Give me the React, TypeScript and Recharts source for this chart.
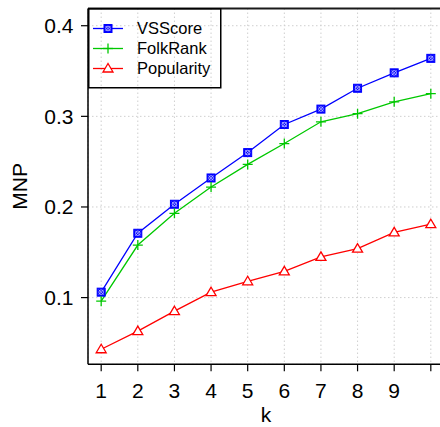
import React from 'react';
import { LineChart, Line, XAxis, YAxis, CartesianGrid, Legend, ReferenceLine } from 'recharts';

const ks = [1, 2, 3, 4, 5, 6, 7, 8, 9, 10];
const vsscore = [0.106, 0.171, 0.203, 0.232, 0.26, 0.291, 0.308, 0.331, 0.348, 0.364];
const folkrank = [0.096, 0.158, 0.193, 0.222, 0.247, 0.27, 0.294, 0.303, 0.316, 0.325];
const popularity = [0.043, 0.063, 0.085, 0.106, 0.118, 0.129, 0.145, 0.154, 0.172, 0.181];
const xTicks = [1, 2, 3, 4, 5, 6, 7, 8, 9, 10];
const yTicks = [0.1, 0.2, 0.3, 0.4];

const data = ks.map((k, i) => ({
  k,
  VSScore: vsscore[i],
  FolkRank: folkrank[i],
  Popularity: popularity[i],
}));

const BLUE = '#0000ff';
const GREEN = '#00c800';
const RED = '#ff0000';
const FONT = '"Liberation Sans", Arial, sans-serif';

const SquareMark = ({ cx, cy }: any) => (
  <g>
    <rect x={cx - 4} y={cy - 4} width={8} height={8} fill={BLUE} stroke={BLUE} strokeWidth={1} />
    <circle cx={cx} cy={cy} r={2.3} fill="none" stroke="#c8c8ff" strokeWidth={0.8} />
    <line x1={cx - 2.5} y1={cy - 2.5} x2={cx + 2.5} y2={cy + 2.5} stroke="#c8c8ff" strokeWidth={0.7} />
    <line x1={cx - 2.5} y1={cy + 2.5} x2={cx + 2.5} y2={cy - 2.5} stroke="#c8c8ff" strokeWidth={0.7} />
  </g>
);

const PlusMark = ({ cx, cy }: any) => (
  <g stroke={GREEN} strokeWidth={1.3}>
    <line x1={cx - 5} y1={cy} x2={cx + 5} y2={cy} />
    <line x1={cx} y1={cy - 5} x2={cx} y2={cy + 5} />
  </g>
);

const TriMark = ({ cx, cy }: any) => (
  <polygon
    points={`${cx},${cy - 5} ${cx - 5},${cy + 3.5} ${cx + 5},${cy + 3.5}`}
    fill="#fff"
    stroke={RED}
    strokeWidth={1.3}
  />
);

const legendRows = [
  { name: 'VSScore', color: BLUE, Mark: SquareMark },
  { name: 'FolkRank', color: GREEN, Mark: PlusMark },
  { name: 'Popularity', color: RED, Mark: TriMark },
];

const LegendBox = () => (
  <svg width={134} height={82} style={{ display: 'block' }}>
    <rect x={0.75} y={0.75} width={132} height={79} fill="none" stroke="#000" strokeWidth={1.5} />
    {legendRows.map((r, i) => {
      const y = 20.5 + i * 20;
      return (
        <g key={r.name}>
          <line x1={5} y1={y} x2={35} y2={y} stroke={r.color} strokeWidth={1.3} />
          <r.Mark cx={20} cy={y} />
          <text x={49} y={y} dy="0.36em" fontSize={16.5} fontFamily={FONT} fill="#000">
            {r.name}
          </text>
        </g>
      );
    })}
  </svg>
);

const YLabel = ({ viewBox }: any) => {
  const cy = viewBox.y + viewBox.height / 2;
  return (
    <text
      x={19}
      y={cy}
      transform={`rotate(-90, 19, ${cy})`}
      textAnchor="middle"
      dy="0.36em"
      fontSize={21}
      fontFamily={FONT}
      fill="#000"
    >
      MNP
    </text>
  );
};

const App: React.FC = () => {
  return (
    <div style={{ position: 'absolute', left: 0, top: 0, width: 440, height: 427, overflow: 'hidden', background: '#fff' }}>
      <LineChart width={448} height={427} data={data} margin={{ top: 8.5, right: 4, left: 0, bottom: 0 }}>
        <CartesianGrid stroke="#cfcfcf" strokeDasharray="1.5 2.5" strokeWidth={1} />
        <XAxis
          dataKey="k"
          type="number"
          domain={[0.64, 10.36]}
          ticks={xTicks}
          interval={0}
          height={62.7}
          tickSize={7}
          tickMargin={11.5}
          tickFormatter={(v: number) => (v === 10 ? '' : String(v))}
          tick={{ fontSize: 21, fontFamily: FONT, fill: '#000' }}
          axisLine={{ stroke: '#000', strokeWidth: 1.5 }}
          tickLine={{ stroke: '#000', strokeWidth: 1.2 }}
          allowDataOverflow
          label={{ value: 'k', position: 'insideBottom', offset: 5, fontSize: 21, fontFamily: FONT, fill: '#000' }}
        />
        <YAxis
          type="number"
          domain={[0.0264, 0.419]}
          ticks={yTicks}
          interval={0}
          width={88}
          tickSize={7}
          tickMargin={7.5}
          tickFormatter={(v: number) => v.toFixed(1)}
          tick={{ fontSize: 21, fontFamily: FONT, fill: '#000' }}
          axisLine={{ stroke: '#000', strokeWidth: 1.5 }}
          tickLine={{ stroke: '#000', strokeWidth: 1.2 }}
          allowDataOverflow
          label={{ content: YLabel }}
        />
        <ReferenceLine y={0.419} stroke="#1a1a1a" strokeWidth={2.2} ifOverflow="extendDomain" />
        <Legend
          content={LegendBox}
          layout="horizontal"
          verticalAlign="top"
          align="left"
          wrapperStyle={{ position: 'absolute', left: 87.5, top: 8, width: 0, height: 0, overflow: 'visible' }}
        />
        <Line type="linear" dataKey="VSScore" stroke={BLUE} strokeWidth={1.3} dot={SquareMark} activeDot={false} isAnimationActive={false} />
        <Line type="linear" dataKey="FolkRank" stroke={GREEN} strokeWidth={1.3} dot={PlusMark} activeDot={false} isAnimationActive={false} />
        <Line type="linear" dataKey="Popularity" stroke={RED} strokeWidth={1.3} dot={TriMark} activeDot={false} isAnimationActive={false} />
      </LineChart>
    </div>
  );
};

export default App;
